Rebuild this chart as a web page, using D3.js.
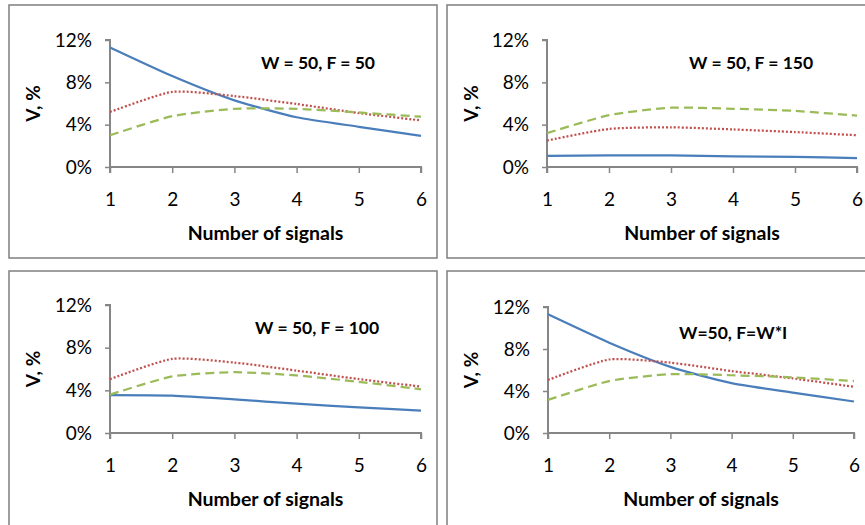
<!DOCTYPE html>
<html><head><meta charset="utf-8">
<script src="https://cdn.jsdelivr.net/npm/d3@7"></script>
<style>
body{margin:0;background:#fff;}
text{font-family:Lato,"Open Sans",sans-serif;fill:#000;}
</style></head>
<body><svg id="c" width="865" height="525"></svg>
<script>
// ---- data ----
const signals = [1, 2, 3, 4, 5, 6];
const yTicks = [0, 4, 8, 12];
const panelTitles = ["W = 50, F = 50", "W = 50, F = 150", "W = 50, F = 100", "W=50, F=W*I"];
const blueValues = [
  [11.3, 8.6, 6.3, 4.7, 3.8, 2.95],
  [1.05, 1.1, 1.1, 1.0, 0.95, 0.85],
  [3.55, 3.5, 3.15, 2.75, 2.4, 2.1],
  [11.3, 8.6, 6.3, 4.75, 3.85, 3.0]
];
const redValues = [
  [5.2, 7.1, 6.7, 5.95, 5.1, 4.4],
  [2.5, 3.6, 3.75, 3.55, 3.3, 3.0],
  [5.05, 6.95, 6.6, 5.85, 5.05, 4.35],
  [5.05, 7.0, 6.7, 5.9, 5.2, 4.4]
];
const greenValues = [
  [3.0, 4.8, 5.5, 5.5, 5.15, 4.75],
  [3.2, 4.9, 5.6, 5.5, 5.3, 4.85],
  [3.6, 5.3, 5.7, 5.4, 4.8, 4.1],
  [3.15, 4.95, 5.6, 5.5, 5.3, 4.95]
];
const xLabel = "Number of signals";
const yLabel = "V, %";

// ---- layout ----
const panels = [
  {bx:9, by:5, bw:428, bh:253, x0:110, x1:421, y0:167, y1:40, tx:261, ty:69},
  {bx:447, by:5, bw:430, bh:253, x0:547, x1:857, y0:167, y1:40, tx:689, ty:69},
  {bx:9, by:271, bw:428, bh:270, x0:110, x1:421, y0:433, y1:305, tx:255, ty:334},
  {bx:447, by:271, bw:430, bh:270, x0:548, x1:854, y0:433, y1:307, tx:679, ty:339}
];
const styles = [
  {color:"#4a7ebb", dash:null},
  {color:"#c0504d", dash:"2,2"},
  {color:"#9bbb59", dash:"9,5"}
];

const svg = d3.select("#c");
panels.forEach((p, i) => {
  const g = svg.append("g");
  g.append("rect").attr("x", p.bx).attr("y", p.by).attr("width", p.bw).attr("height", p.bh)
    .attr("fill", "#fff").attr("stroke", "#7f7f7f").attr("stroke-width", 1.5);
  const x = d3.scaleLinear().domain([1, 6]).range([p.x0, p.x1]);
  const y = d3.scaleLinear().domain([0, 12]).range([p.y0, p.y1]);

  const ya = g.append("g").attr("transform", `translate(${p.x0},0)`)
    .call(d3.axisLeft(y).tickValues(yTicks).tickSize(5).tickPadding(13).tickFormat(d => d + "%"));
  const xa = g.append("g").attr("transform", `translate(0,${p.y0})`)
    .call(d3.axisBottom(x).tickValues(signals).tickSize(6).tickPadding(20).tickFormat(d3.format("d")));
  [ya, xa].forEach(a => {
    a.select(".domain").attr("stroke", "#868686").attr("stroke-width", 2);
    a.selectAll(".tick line").attr("stroke", "#868686").attr("stroke-width", 1.5);
    a.selectAll(".tick text").attr("font-size", 19).attr("font-family", "Lato, sans-serif").attr("fill", "#000");
  });
  ya.select(".domain").attr("d", `M-5,${p.y1}H0V${p.y0}`);
  xa.select(".domain").attr("d", `M${p.x0},6V0H${p.x1}V6`);

  const line = d3.line().x((d, j) => x(signals[j])).y(d => y(d)).curve(d3.curveCardinal.tension(0.4));
  [blueValues[i], redValues[i], greenValues[i]].forEach((vals, k) => {
    g.append("path").attr("d", line(vals)).attr("fill", "none")
      .attr("stroke", styles[k].color).attr("stroke-width", 2.25)
      .attr("stroke-dasharray", styles[k].dash);
  });

  g.append("text").attr("x", (p.x0 + p.x1) / 2).attr("y", p.y0 + 73).attr("text-anchor", "middle")
    .attr("font-size", 19.5).attr("font-weight", "bold").text(xLabel);
  g.append("text").attr("transform", `translate(${p.bx + 31},${(p.y0 + p.y1) / 2}) rotate(-90)`)
    .attr("text-anchor", "middle").attr("font-size", 19).attr("font-weight", "bold").text(yLabel);
  g.append("text").attr("x", p.tx).attr("y", p.ty).attr("font-size", 17.5).attr("font-weight", "bold").text(panelTitles[i]);
});
</script></body></html>
